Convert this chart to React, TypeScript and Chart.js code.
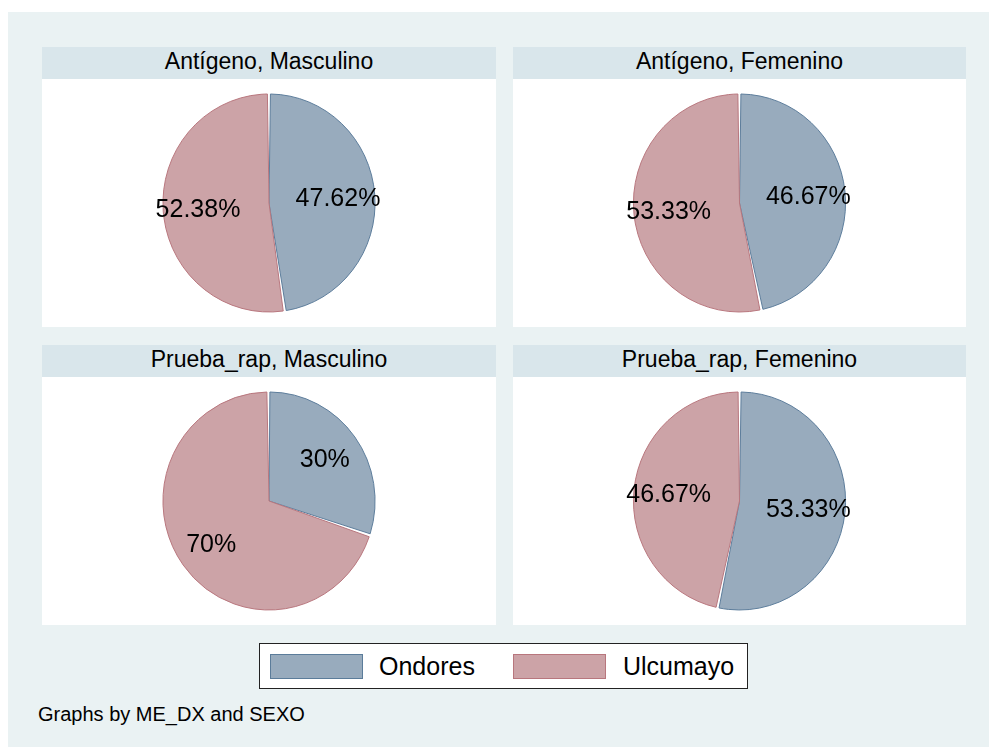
import React, { useEffect, useRef } from "react";
import { Chart, registerables } from "chart.js";

Chart.register(...registerables);

// ---- data ----
const seriesLabels = ["Ondores", "Ulcumayo"];
const panelTitles = [
  "Antígeno, Masculino",
  "Antígeno, Femenino",
  "Prueba_rap, Masculino",
  "Prueba_rap, Femenino",
];
const ondoresPct = [47.62, 46.67, 30, 53.33];
const ulcumayoPct = [52.38, 53.33, 70, 46.67];
const footerText = "Graphs by ME_DX and SEXO";

// ---- styles ----
const FONT = "'Liberation Sans', Arial, Helvetica, sans-serif";
const fillColors = ["#98abbd", "#cca3a7"];
const borderColors = ["#5b7c9a", "#b8767d"];
const BG = "#eaf2f3";
const STRIP = "#d9e6eb";
const X_SQUASH = 0.973;

const panelBoxes = [
  { left: 42, top: 47, width: 454 },
  { left: 513, top: 47, width: 453 },
  { left: 42, top: 345, width: 454 },
  { left: 513, top: 345, width: 453 },
];
const STRIP_H = 32;
const PLOT_H = 248;

const pctLabelPlugin = {
  id: "pctLabels",
  beforeDatasetsDraw(chart: any) {
    const ctx = chart.ctx;
    const meta = chart.getDatasetMeta(0);
    const arc = meta.data[0];
    if (!arc) return;
    const cx = arc.x;
    const cy = arc.y;
    ctx.save();
    ctx.translate(cx, cy);
    ctx.scale(X_SQUASH, 1);
    ctx.translate(-cx, -cy);
  },
  afterDatasetsDraw(chart: any) {
    const ctx = chart.ctx;
    ctx.restore();
    const meta = chart.getDatasetMeta(0);
    const data = chart.data.datasets[0].data as number[];
    ctx.save();
    ctx.font = `25px ${FONT}`;
    ctx.fillStyle = "#000";
    ctx.textAlign = "center";
    ctx.textBaseline = "middle";
    meta.data.forEach((arc: any, i: number) => {
      const p = arc.getProps(["x", "y", "startAngle", "endAngle", "outerRadius"], true);
      const mid = (p.startAngle + p.endAngle) / 2;
      const d = p.outerRadius * 0.665;
      const tx = p.x + Math.cos(mid) * d * X_SQUASH;
      const ty = p.y + Math.sin(mid) * d;
      const txt = `${parseFloat(data[i].toFixed(2))}%`;
      ctx.fillText(txt, tx - 1, ty + 1.5);
    });
    ctx.restore();
  },
};

function PiePanel({ idx }: { idx: number }) {
  const ref = useRef<HTMLCanvasElement>(null);
  const box = panelBoxes[idx];
  useEffect(() => {
    if (!ref.current) return;
    const chart = new Chart(ref.current, {
      type: "pie",
      data: {
        labels: seriesLabels,
        datasets: [
          {
            data: [ondoresPct[idx], ulcumayoPct[idx]],
            backgroundColor: fillColors,
            borderColor: borderColors,
            borderWidth: 1,
            spacing: 1,
          },
        ],
      },
      options: {
        animation: false,
        responsive: false,
        maintainAspectRatio: false,
        layout: { padding: { top: 14.5, bottom: 14.5 } },
        plugins: {
          legend: { display: false },
          tooltip: { enabled: false },
          title: { display: false },
        },
      },
      plugins: [pctLabelPlugin],
    } as any);
    return () => chart.destroy();
  }, [idx]);

  return (
    <>
      <div
        style={{
          position: "absolute",
          left: box.left,
          top: box.top,
          width: box.width,
          height: STRIP_H,
          background: STRIP,
          fontFamily: FONT,
          fontSize: 23,
          lineHeight: `${STRIP_H - 3}px`,
          textAlign: "center",
          color: "#000",
        }}
      >
        {panelTitles[idx]}
      </div>
      <div
        style={{
          position: "absolute",
          left: box.left,
          top: box.top + STRIP_H,
          width: box.width,
          height: PLOT_H,
          background: "#fff",
        }}
      >
        <canvas
          ref={ref}
          width={box.width}
          height={PLOT_H}
          style={{ display: "block", width: box.width, height: PLOT_H }}
        />
      </div>
    </>
  );
}

export default function App() {
  return (
    <div
      style={{
        position: "absolute",
        left: 0,
        top: 0,
        width: 989,
        height: 747,
        background: "#fff",
        overflow: "hidden",
        fontFamily: FONT,
      }}
    >
      <div
        style={{
          position: "absolute",
          left: 8,
          top: 12,
          width: 981,
          height: 735,
          background: BG,
        }}
      />
      {[0, 1, 2, 3].map((i) => (
        <PiePanel key={i} idx={i} />
      ))}
      {/* legend */}
      <div
        style={{
          position: "absolute",
          left: 259,
          top: 643,
          width: 487,
          height: 44,
          border: "1.5px solid #222",
          background: "#fff",
        }}
      >
        {seriesLabels.map((lab, i) => (
          <React.Fragment key={lab}>
            <div
              style={{
                position: "absolute",
                left: i === 0 ? 10 : 253,
                top: 10,
                width: 93,
                height: 25,
                background: fillColors[i],
                border: `1px solid ${borderColors[i]}`,
                boxSizing: "border-box",
              }}
            />
            <div
              style={{
                position: "absolute",
                left: i === 0 ? 119 : 363,
                top: 0,
                height: 44,
                lineHeight: "44px",
                fontSize: 25,
                color: "#000",
                whiteSpace: "nowrap",
              }}
            >
              {lab}
            </div>
          </React.Fragment>
        ))}
      </div>
      <div
        style={{
          position: "absolute",
          left: 38,
          top: 702,
          fontSize: 20,
          lineHeight: "24px",
          color: "#000",
          whiteSpace: "nowrap",
        }}
      >
        {footerText}
      </div>
    </div>
  );
}
